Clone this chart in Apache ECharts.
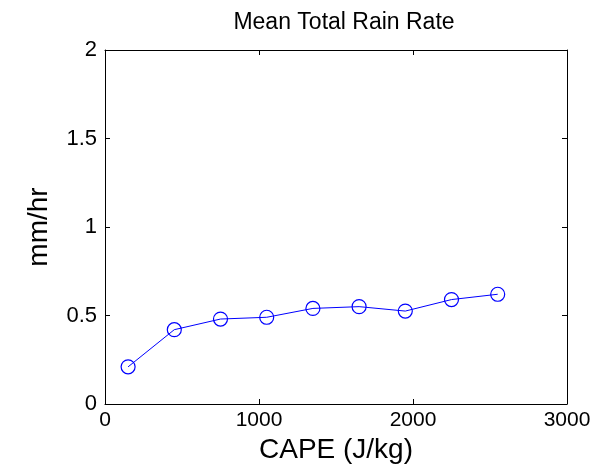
<!DOCTYPE html>
<html>
<head>
<meta charset="utf-8">
<script src="https://cdn.jsdelivr.net/npm/echarts@6/dist/echarts.min.js"></script>
<style>
  html, body { margin: 0; padding: 0; background: #fff; }
  #chart { width: 604px; height: 474px; }
</style>
</head>
<body>
<div id="chart"></div>
<script>
// CAPE bin centres (J/kg) and mean total rain rate (mm/hr)
const capeBins = [150, 450, 750, 1050, 1350, 1650, 1950, 2250, 2550];
const rainRate = [0.21, 0.42, 0.48, 0.49, 0.54, 0.55, 0.525, 0.59, 0.62];
const xTicks = [0, 1000, 2000, 3000];
const yTicks = [0, 0.5, 1, 1.5, 2];

const FONT = 'Liberation Sans, Arial, Helvetica, sans-serif';
const chart = echarts.init(document.getElementById('chart'), null, { renderer: 'canvas' });

// Boxed axes: solid black frame with short inward ticks on all four sides
const boxAxisLine = { show: true, onZero: false, lineStyle: { color: '#000', width: 1 } };
const inTicks = { show: true, inside: true, length: 5, lineStyle: { color: '#000', width: 1 } };
const plain = v => String(v);

chart.setOption({
  animation: false,
  backgroundColor: '#fff',
  title: {
    text: 'Mean Total Rain Rate',
    left: 339, top: 6, textAlign: 'center',
    textStyle: { fontFamily: FONT, fontSize: 23, fontWeight: 'normal', color: '#000' }
  },
  grid: { left: 105, right: 37, top: 50, bottom: 70 },
  xAxis: [
    {
      type: 'value', min: xTicks[0], max: xTicks[xTicks.length - 1], interval: 1000,
      name: 'CAPE (J/kg)', nameLocation: 'middle', nameGap: 27,
      nameTextStyle: { fontFamily: FONT, fontSize: 28, color: '#000' },
      axisLine: boxAxisLine, axisTick: inTicks, splitLine: { show: false },
      axisLabel: { fontFamily: FONT, fontSize: 21, color: '#000', margin: 6, formatter: plain }
    },
    {
      type: 'value', position: 'top', min: xTicks[0], max: xTicks[xTicks.length - 1], interval: 1000,
      axisLine: boxAxisLine, axisTick: inTicks, splitLine: { show: false },
      axisLabel: { show: false }
    }
  ],
  yAxis: [
    {
      type: 'value', min: yTicks[0], max: yTicks[yTicks.length - 1], interval: 0.5,
      name: 'mm/hr', nameLocation: 'middle', nameGap: 52, nameRotate: 90,
      nameTextStyle: { fontFamily: FONT, fontSize: 28, color: '#000' },
      axisLine: boxAxisLine, axisTick: inTicks, splitLine: { show: false },
      axisLabel: { fontFamily: FONT, fontSize: 22, color: '#000', margin: 8, formatter: plain }
    },
    {
      type: 'value', position: 'right', min: yTicks[0], max: yTicks[yTicks.length - 1], interval: 0.5,
      axisLine: boxAxisLine, axisTick: inTicks, splitLine: { show: false },
      axisLabel: { show: false }
    }
  ],
  series: [
    {
      type: 'line',
      data: capeBins.map((c, i) => [c, rainRate[i]]),
      xAxisIndex: 0, yAxisIndex: 0,
      symbol: 'circle', symbolSize: 14, showAllSymbol: true,
      lineStyle: { color: '#0000ff', width: 1 },
      itemStyle: { color: 'rgba(0,0,0,0)', borderColor: '#0000ff', borderWidth: 1.2 }
    }
  ]
});
</script>
</body>
</html>
